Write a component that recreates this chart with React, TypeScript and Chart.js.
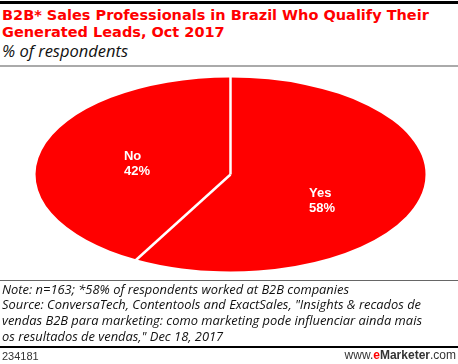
import React, { useEffect, useRef } from "react";
import { Chart, registerables } from "chart.js";

Chart.register(...registerables);

const categories = ["Yes", "No"];
const values = [58, 42];
const sliceColors = ["#ff0000", "#ff0000"];

const SX = 195 / 97; // horizontal stretch of the pie into an ellipse
const LABEL_FRAC = 0.49;
const LABEL_DY = [14, 1];

const ellipsePlugin = {
  id: "ellipse",
  beforeDatasetsDraw(chart: any) {
    const arc = chart.getDatasetMeta(0).data[0];
    const ctx = chart.ctx;
    ctx.save();
    ctx.translate(arc.x, arc.y);
    ctx.scale(SX, 1);
    ctx.translate(-arc.x, -arc.y);
  },
  afterDatasetsDraw(chart: any) {
    const ctx = chart.ctx;
    ctx.restore();
    const arcs = chart.getDatasetMeta(0).data;
    ctx.save();
    ctx.strokeStyle = "#ffffff";
    ctx.lineWidth = 2.5;
    arcs.forEach((a: any) => {
      const ang = a.startAngle;
      const r = a.outerRadius + 2;
      ctx.beginPath();
      ctx.moveTo(a.x, a.y);
      ctx.lineTo(a.x + Math.cos(ang) * r * SX, a.y + Math.sin(ang) * r);
      ctx.stroke();
    });
    ctx.fillStyle = "#ffffff";
    ctx.font = "bold 13px 'Liberation Sans', Arial, sans-serif";
    ctx.textAlign = "left";
    ctx.textBaseline = "alphabetic";
    arcs.forEach((a: any, i: number) => {
      const mid = (a.startAngle + a.endAngle) / 2;
      const cx = a.x + Math.cos(mid) * a.outerRadius * SX * LABEL_FRAC;
      const cy = a.y + Math.sin(mid) * a.outerRadius * LABEL_FRAC + LABEL_DY[i];
      const l1 = categories[i];
      const l2 = values[i] + "%";
      const w = Math.max(ctx.measureText(l1).width, ctx.measureText(l2).width);
      const left = cx - w / 2 - 1;
      ctx.fillText(l1, left, cy - 3.5);
      ctx.fillText(l2, left, cy + 11.5);
    });
    ctx.restore();
  },
};

export default function App() {
  const ref = useRef<HTMLCanvasElement>(null);
  useEffect(() => {
    if (!ref.current) return;
    const chart = new Chart(ref.current, {
      type: "pie",
      data: {
        labels: categories,
        datasets: [
          {
            data: values,
            backgroundColor: sliceColors,
            borderWidth: 0,
            radius: 97,
          } as any,
        ],
      },
      options: {
        animation: false,
        responsive: false,
        devicePixelRatio: 1,
        events: [],
        layout: { padding: { left: 3, right: 0, top: 0, bottom: 0 } },
        plugins: {
          legend: { display: false },
          tooltip: { enabled: false },
          title: { display: false },
        },
      },
      plugins: [ellipsePlugin],
    });
    return () => chart.destroy();
  }, []);

  const noteStyle: React.CSSProperties = {
    position: "absolute",
    left: 2,
    top: 281.5,
    fontFamily: "'Open Sans', sans-serif",
    fontStyle: "italic",
    fontSize: 12.9,
    lineHeight: "15.8px",
    color: "#111",
    whiteSpace: "nowrap",
  };

  return (
    <div
      style={{
        position: "absolute",
        left: 0,
        top: 0,
        width: 458,
        height: 364,
        background: "#fff",
        overflow: "hidden",
      }}
    >
      <div style={{ position: "absolute", left: 0, top: 1, width: 458, height: 3, background: "#000" }} />
      <div
        style={{
          position: "absolute",
          left: 2,
          top: 7,
          fontFamily: "'DejaVu Sans', Verdana, sans-serif",
          fontWeight: "bold",
          fontSize: 14.5,
          lineHeight: "17px",
          color: "#ff0000",
          whiteSpace: "nowrap",
        }}
      >
        B2B* Sales Professionals in Brazil Who Qualify Their
        <br />
        Generated Leads, Oct 2017
      </div>
      <div
        style={{
          position: "absolute",
          left: 2,
          top: 40,
          fontFamily: "'Open Sans', sans-serif",
          fontStyle: "italic",
          fontSize: 16.5,
          lineHeight: "21px",
          color: "#111",
          whiteSpace: "nowrap",
        }}
      >
        % of respondents
      </div>
      <div style={{ position: "absolute", left: 0, top: 65, width: 458, height: 1.5, background: "#aaa" }} />
      <canvas
        ref={ref}
        width={458}
        height={213}
        style={{ position: "absolute", left: 0, top: 68, width: 458, height: 213 }}
      />
      <div style={{ position: "absolute", left: 0, top: 280, width: 458, height: 1, background: "#666" }} />
      <div style={noteStyle}>
        Note: n=163; *58% of respondents worked at B2B companies
        <br />
        Source: ConversaTech, Contentools and ExactSales, "Insights &amp; recados de
        <br />
        vendas B2B para marketing: como marketing pode influenciar ainda mais
        <br />
        os resultados de vendas," Dec 18, 2017
      </div>
      <div style={{ position: "absolute", left: 0, top: 345.5, width: 458, height: 2.5, background: "#000" }} />
      <div
        style={{
          position: "absolute",
          left: 2,
          top: 349,
          fontFamily: "'Liberation Sans', Arial, sans-serif",
          fontSize: 11,
          lineHeight: "14px",
          color: "#333",
        }}
      >
        234181
      </div>
      <div
        style={{
          position: "absolute",
          right: 2,
          top: 348,
          fontFamily: "'Liberation Sans', Arial, sans-serif",
          fontSize: 12,
          lineHeight: "15px",
          color: "#333",
          whiteSpace: "nowrap",
        }}
      >
        www.<b style={{ color: "#ff0000" }}>e</b>
        <b>Marketer</b>.com
      </div>
    </div>
  );
}
